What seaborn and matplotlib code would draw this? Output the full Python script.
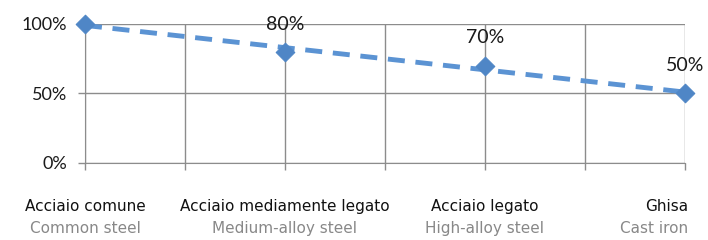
import numpy as np
import pandas as pd
import matplotlib
matplotlib.use("Agg")
import matplotlib.pyplot as plt
import seaborn as sns

# data
categories_it = ["Acciaio comune", "Acciaio mediamente legato", "Acciaio legato", "Ghisa"]
categories_en = ["Common steel", "Medium-alloy steel", "High-alloy steel", "Cast iron"]
values = [1.00, 0.80, 0.70, 0.50]
point_labels = ["", "80%", "70%", "50%"]
y_ticks = [0.0, 0.5, 1.0]
y_ticklabels = ["0%", "50%", "100%"]

sns.set_style("white")
plt.rcParams["font.family"] = ["Lato", "DejaVu Sans"]

# each category sits on every second grid column
xpos = np.arange(len(values)) * 2
df = pd.DataFrame({"x": xpos, "value": values})

# linear trend drawn dashed, as in the original spreadsheet chart
slope, intercept = np.polyfit(df["x"], df["value"], 1)
trend = pd.DataFrame({"x": [xpos[0], xpos[-1]]})
trend["value"] = intercept + slope * trend["x"]

fig = plt.figure(figsize=(7.08, 2.40), dpi=100)
ax = fig.add_axes([0.12, 0.321, 0.8475, 0.579])

ax.set_xlim(0, 6)
ax.set_ylim(0, 1)
ax.set_xticks(np.arange(0, 7))
ax.set_yticks(y_ticks)
ax.set_yticklabels(y_ticklabels, fontsize=13, color="#1a1a1a")
ax.set_xticklabels([])
ax.grid(True, color="#8c8c8c", linewidth=1)
ax.set_axisbelow(True)
for side in ["top", "right"]:
    ax.spines[side].set_visible(False)
for side in ["left", "bottom"]:
    ax.spines[side].set_color("#8c8c8c")
ax.tick_params(axis="both", length=5, width=1, color="#8c8c8c", direction="out",
               bottom=True, left=True)
ax.tick_params(axis="y", pad=8)

sns.lineplot(data=trend, x="x", y="value", ax=ax, color="#5b93d3", linewidth=3.5,
             linestyle=(0, (3.5, 2.2)), clip_on=False)
sns.scatterplot(data=df, x="x", y="value", ax=ax, marker="D", s=90, color="#4f86c6",
                edgecolor="#4f86c6", zorder=5, clip_on=False)
ax.set_xlabel("")
ax.set_ylabel("")

for x, v, lab in zip(xpos, values, point_labels):
    if lab:
        ax.annotate(lab, (x, v), xytext=(0, 20), textcoords="offset points",
                    ha="center", va="center", fontsize=14, color="#1a1a1a")

# two-line category labels under the plot
for i, (x, it, en) in enumerate(zip(xpos, categories_it, categories_en)):
    ha = "right" if i == len(xpos) - 1 else "center"
    xx = x + 0.03 if ha == "right" else x
    ax.annotate(it, (xx, 0), xycoords=("data", "axes fraction"), xytext=(0, -31.5),
                textcoords="offset points", ha=ha, va="center", fontsize=11,
                color="#111111", family=["DejaVu Sans"])
    ax.annotate(en, (xx, 0), xycoords=("data", "axes fraction"), xytext=(0, -47.5),
                textcoords="offset points", ha=ha, va="center", fontsize=11,
                color="#888888", family=["DejaVu Sans"])

fig.savefig("out.png", dpi=100)
